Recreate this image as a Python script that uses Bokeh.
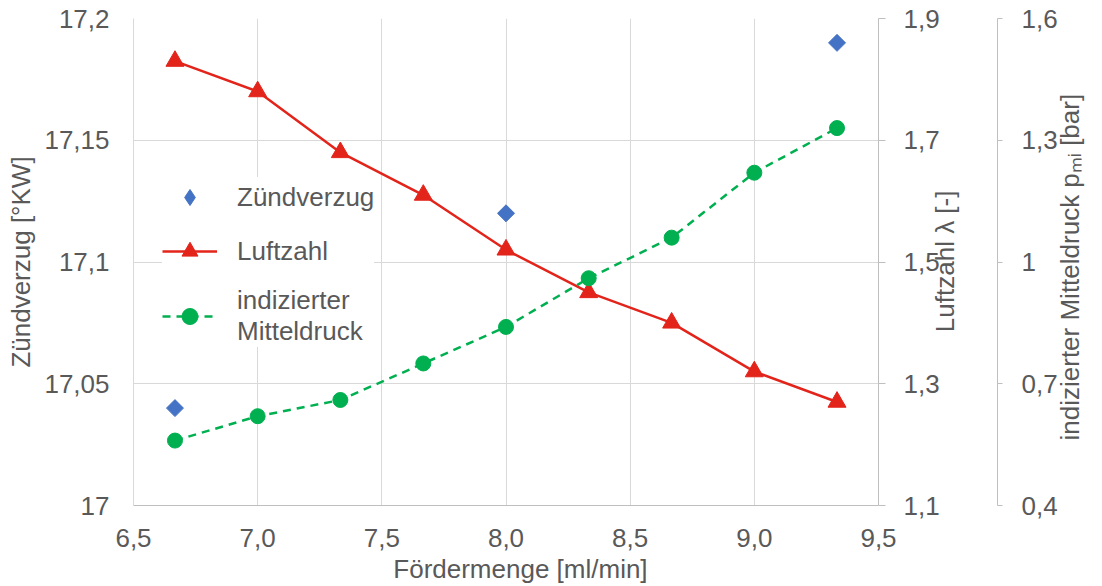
import math

from bokeh.embed import file_html
from bokeh.models import FixedTicker, Legend, LegendItem, LinearAxis, Range1d
from bokeh.plotting import figure
from bokeh.resources import INLINE

# Measured values
foerdermenge = [6.667, 7.0, 7.333, 7.667, 8.0, 8.333, 8.667, 9.0, 9.333]
zuendverzug_x = [6.667, 8.0, 9.333]
zuendverzug = [17.04, 17.12, 17.19]
luftzahl = [1.83, 1.78, 1.68, 1.61, 1.52, 1.45, 1.40, 1.32, 1.27]
mitteldruck = [0.56, 0.62, 0.66, 0.75, 0.84, 0.96, 1.06, 1.22, 1.33]

# Axis ticks and their labels (decimal comma)
x_ticks = [6.5, 7.0, 7.5, 8.0, 8.5, 9.0, 9.5]
x_tick_labels = ["6,5", "7,0", "7,5", "8,0", "8,5", "9,0", "9,5"]
zv_ticks = [17.0, 17.05, 17.1, 17.15, 17.2]
zv_tick_labels = ["17", "17,05", "17,1", "17,15", "17,2"]
lam_ticks = [1.1, 1.3, 1.5, 1.7, 1.9]
lam_tick_labels = ["1,1", "1,3", "1,5", "1,7", "1,9"]
pmi_ticks = [0.4, 0.7, 1.0, 1.3, 1.6]
pmi_tick_labels = ["0,4", "0,7", "1", "1,3", "1,6"]

FONT = "Liberation Sans"
TEXT = "#595959"
GRID = "#d9d9d9"
AXIS = "#bfbfbf"
BLUE = "#4472c4"
RED = "#e3241b"
GREEN = "#00b050"
FS = "26px"
NBSP = "\u00a0"

p = figure(
    width=1102, height=586,
    x_range=Range1d(6.5, 9.5), y_range=Range1d(17.0, 17.2),
    output_backend="svg", toolbar_location=None,
    min_border_left=133, min_border_right=224,
    min_border_top=18, min_border_bottom=81,
)
p.outline_line_color = None
p.background_fill_color = "white"
p.border_fill_color = "white"

p.extra_y_ranges = {"lam": Range1d(1.1, 1.9), "pmi": Range1d(0.4, 1.6)}


def style_axis(ax, ticks, labels):
    ax.ticker = FixedTicker(ticks=ticks)
    ax.major_label_overrides = dict(zip(ticks, labels))
    ax.minor_tick_line_color = None
    ax.major_label_text_font = FONT
    ax.major_label_text_font_size = FS
    ax.major_label_text_color = TEXT
    ax.axis_label_text_font = FONT
    ax.axis_label_text_font_size = FS
    ax.axis_label_text_color = TEXT
    ax.axis_label_text_font_style = "normal"


# bottom axis
xa = p.xaxis[0]
style_axis(xa, x_ticks, x_tick_labels)
xa.axis_label = NBSP * 4 + "Fördermenge [ml/min]"
xa.axis_line_color = AXIS
xa.major_tick_out = 0
xa.major_tick_in = 0
xa.major_label_standoff = 23
xa.axis_label_standoff = 4

# left axis
ya = p.yaxis[0]
style_axis(ya, zv_ticks, zv_tick_labels)
ya.axis_label = "Zündverzug [°KW]"
ya.axis_line_color = GRID
ya.major_tick_out = 0
ya.major_tick_in = 0
ya.major_label_standoff = 24
ya.axis_label_standoff = 5

# right axis: Luftzahl (title reads bottom to top, starting from the frame bottom)
lam_axis = LinearAxis(y_range_name="lam")
style_axis(lam_axis, lam_ticks, lam_tick_labels)
lam_axis.axis_label = NBSP * 24 + "Luftzahl λ [-]"
lam_axis.axis_label_orientation = math.pi / 2
lam_axis.axis_label_align = "start"
lam_axis.axis_line_color = AXIS
lam_axis.major_tick_line_color = AXIS
lam_axis.major_tick_out = 7
lam_axis.major_tick_in = 0
lam_axis.major_label_standoff = 18
lam_axis.axis_label_standoff = 2
p.add_layout(lam_axis, "right")

# blank gap before the second right axis
gap_axis = LinearAxis(y_range_name="lam", ticker=FixedTicker(ticks=[]))
gap_axis.axis_line_color = None
gap_axis.major_tick_line_color = None
gap_axis.minor_tick_line_color = None
gap_axis.major_tick_out = 0
gap_axis.major_tick_in = 0
gap_axis.major_label_standoff = 0
gap_axis.axis_label = NBSP
gap_axis.axis_label_text_font_size = "1px"
gap_axis.axis_label_standoff = 16
p.add_layout(gap_axis, "right")

# right axis: indizierter Mitteldruck
pmi_axis = LinearAxis(y_range_name="pmi")
style_axis(pmi_axis, pmi_ticks, pmi_tick_labels)
pmi_axis.axis_label = NBSP * 9 + "indizierter Mitteldruck pₘᵢ [bar]"
pmi_axis.axis_label_orientation = math.pi / 2
pmi_axis.axis_label_align = "start"
pmi_axis.axis_line_color = AXIS
pmi_axis.major_tick_line_color = AXIS
pmi_axis.major_tick_out = 5
pmi_axis.major_tick_in = 0
pmi_axis.major_label_standoff = 19
pmi_axis.axis_label_standoff = 9
p.add_layout(pmi_axis, "right")

# grid
p.xgrid.ticker = FixedTicker(ticks=x_ticks)
p.ygrid.ticker = FixedTicker(ticks=zv_ticks)
p.xgrid.grid_line_color = GRID
p.ygrid.grid_line_color = GRID
p.xgrid.grid_line_width = 1
p.ygrid.grid_line_width = 1

# series
zv_r = p.scatter(zuendverzug_x, zuendverzug, marker="square", angle=math.pi / 4,
                 size=12, fill_color=BLUE, line_color=BLUE)

lam_line = p.line(foerdermenge, luftzahl, y_range_name="lam",
                  line_color=RED, line_width=2.5)
lam_pts = p.scatter(foerdermenge, luftzahl, y_range_name="lam", marker="triangle",
                    size=18, fill_color=RED, line_color=RED)

pmi_line = p.line(foerdermenge, mitteldruck, y_range_name="pmi",
                  line_color=GREEN, line_width=2.5, line_dash="8 6")
pmi_pts = p.scatter(foerdermenge, mitteldruck, y_range_name="pmi", marker="circle",
                    size=15, fill_color=GREEN, line_color=GREEN)

# legend swatch for the ignition delay (legends draw markers unrotated)
zv_key = p.scatter(x=[float("nan")], y=[float("nan")], marker="diamond",
                   fill_color=BLUE, line_color=BLUE)

legend = Legend(
    items=[
        LegendItem(label="Zündverzug", renderers=[zv_key]),
        LegendItem(label="Luftzahl", renderers=[lam_line, lam_pts]),
        LegendItem(label="indizierter\nMitteldruck", renderers=[pmi_line, pmi_pts]),
    ],
    location=(29, 158),
    glyph_width=55, glyph_height=40,
    label_standoff=20, spacing=14, padding=4, margin=0,
    border_line_color=None,
    background_fill_color="white", background_fill_alpha=1.0,
    label_text_font=FONT, label_text_font_size=FS, label_text_color=TEXT,
)
p.add_layout(legend)

open("out.html", "w").write(file_html(p, INLINE))
